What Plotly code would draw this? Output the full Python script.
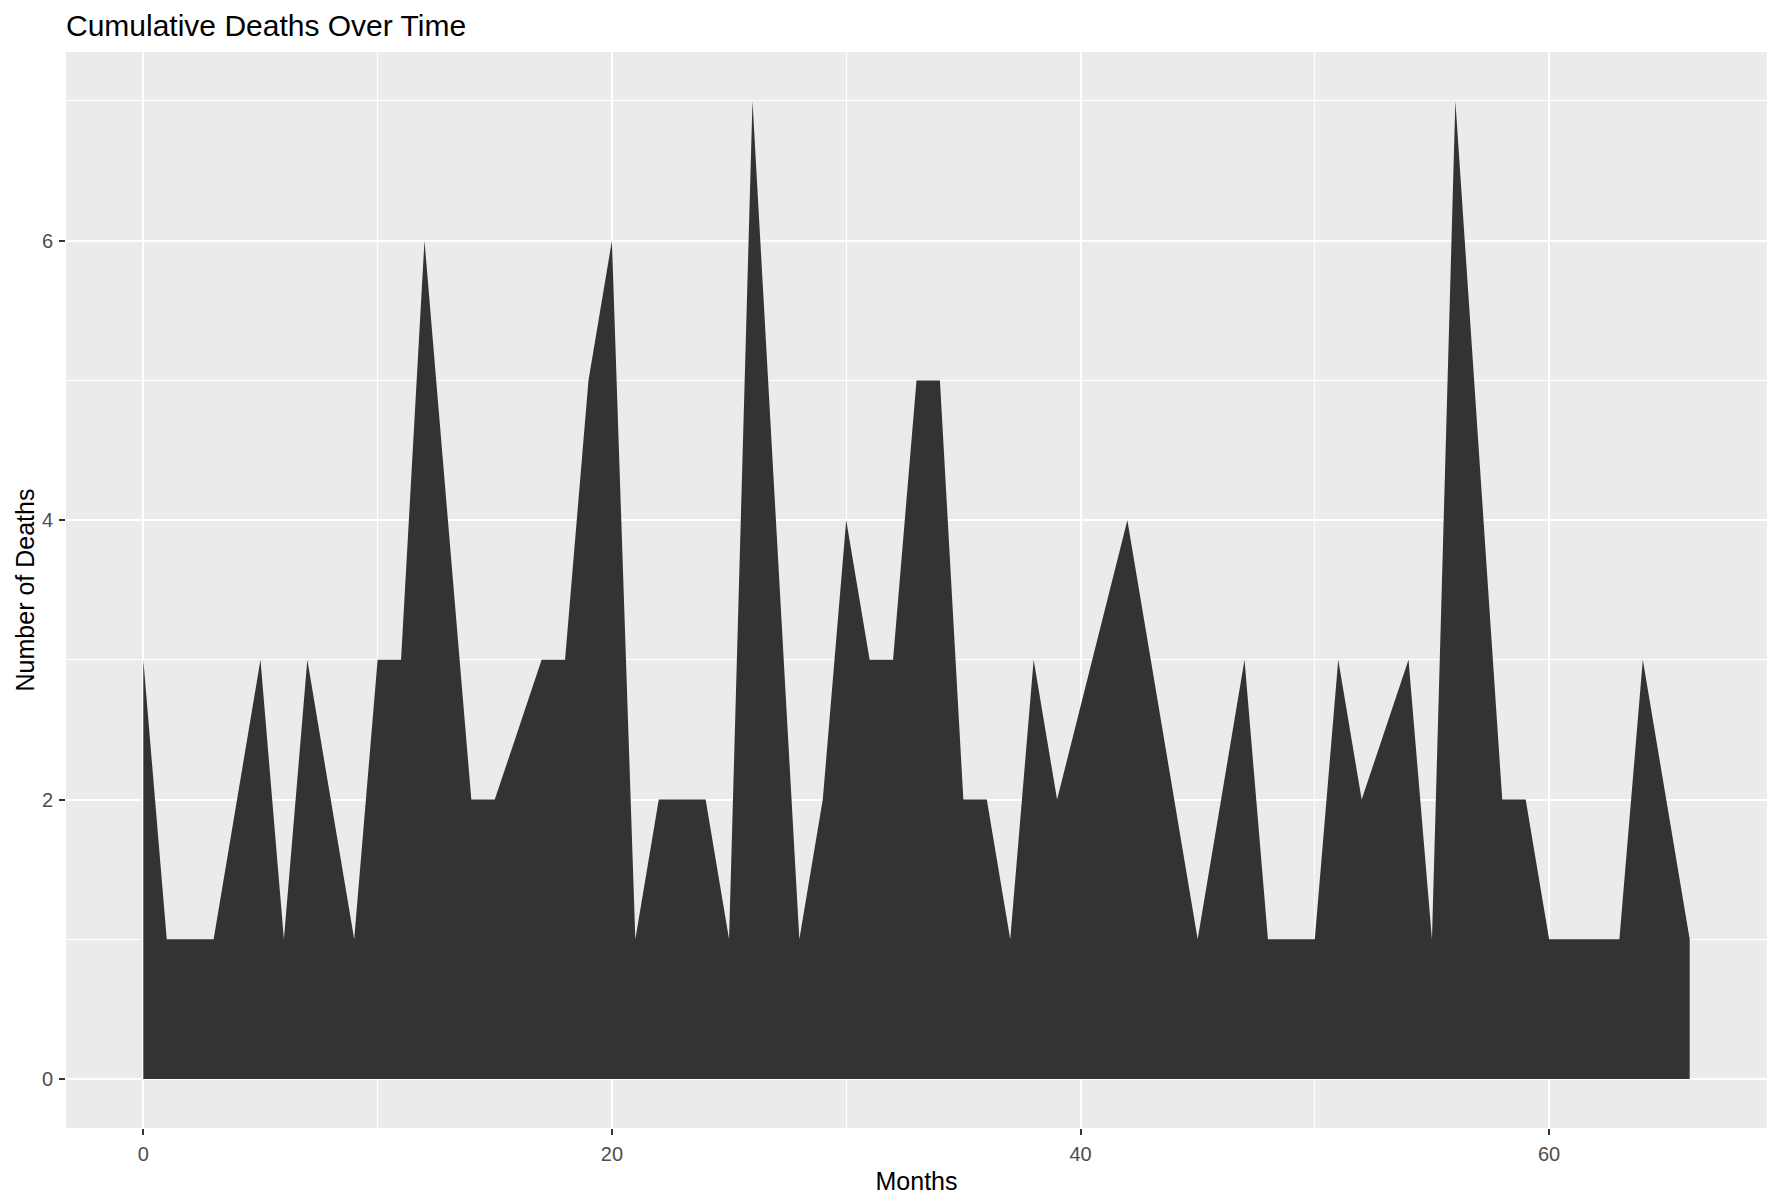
import plotly.graph_objects as go

months = [0, 1, 3, 5, 6, 7, 9, 10, 11, 12, 14, 15, 17, 18, 19, 20, 21, 22, 24, 25,
          26, 28, 29, 30, 31, 32, 33, 34, 35, 36, 37, 38, 39, 42, 45, 47, 48, 50, 51,
          52, 54, 55, 56, 58, 59, 60, 63, 64, 66]
deaths = [3, 1, 1, 3, 1, 3, 1, 3, 3, 6, 2, 2, 3, 3, 5, 6, 1, 2, 2, 1,
          7, 1, 2, 4, 3, 3, 5, 5, 2, 2, 1, 3, 2, 4, 1, 3, 1, 1, 3,
          2, 3, 1, 7, 2, 2, 1, 1, 3, 1]
x_ticks = [0, 20, 40, 60]
y_ticks = [0, 2, 4, 6]

W, H = 1782, 1204
FONT = "Liberation Sans, Arial"
fig = go.Figure()
fig.add_trace(go.Scatter(
    x=months, y=deaths, mode="lines", fill="tozeroy",
    fillcolor="#333333", line=dict(width=0, color="#333333"),
    hoverinfo="x+y", showlegend=False,
))

axis_common = dict(
    showgrid=True, gridcolor="white", gridwidth=2,
    zeroline=False, showline=False, automargin=False,
    ticks="outside", ticklen=6, tickwidth=1.5, tickcolor="#333333",
    tickfont=dict(family=FONT, size=20, color="#4D4D4D"),
)
fig.update_xaxes(
    range=[-3.3, 69.3], tickvals=x_ticks, ticktext=[str(v) for v in x_ticks],
    minor=dict(tickvals=[10, 30, 50], showgrid=True, gridcolor="white", gridwidth=1, ticks=""),
    title=dict(text="Months", font=dict(family=FONT, size=25, color="black"), standoff=8),
    ticklabelstandoff=2,
    **axis_common,
)
fig.update_yaxes(
    range=[-0.35, 7.35], tickvals=y_ticks, ticktext=[str(v) for v in y_ticks],
    minor=dict(tickvals=[1, 3, 5, 7], showgrid=True, gridcolor="white", gridwidth=1, ticks=""),
    title=dict(text="Number of Deaths", font=dict(family=FONT, size=25, color="black"), standoff=0),
    ticklabelstandoff=2,
    **axis_common,
)
fig.update_layout(
    width=W, height=H,
    paper_bgcolor="white", plot_bgcolor="#EBEBEB",
    margin=dict(l=66, r=15, t=52, b=76),
    title=dict(text="Cumulative Deaths Over Time", x=66 / W, xref="container", xanchor="left",
               y=1 - 25 / H, yref="container", yanchor="middle",
               font=dict(family=FONT, size=30, color="black")),
)
fig.write_html("out.html", config={"displayModeBar": False},
               post_script="document.body.style.margin='0';document.body.style.overflow='hidden';")
